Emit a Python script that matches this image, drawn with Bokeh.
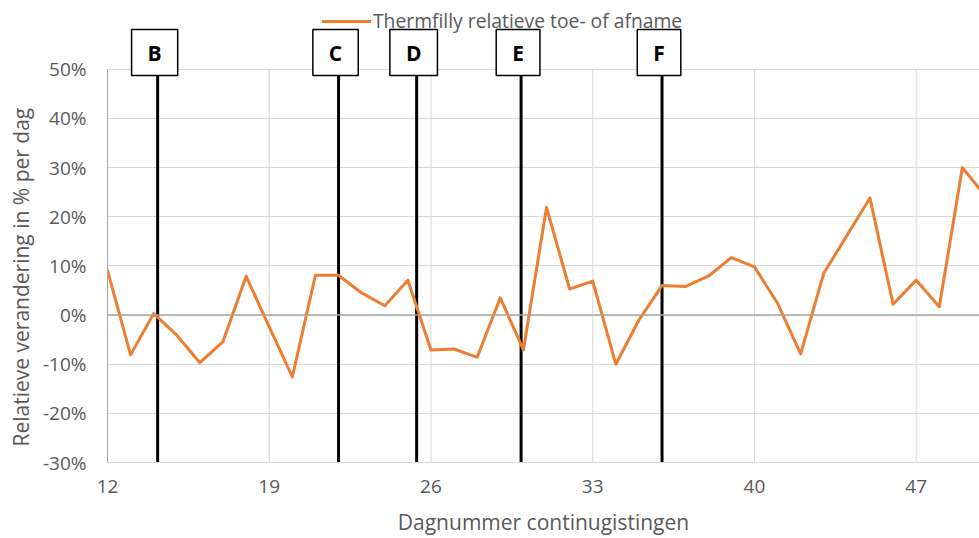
from bokeh.plotting import figure
from bokeh.models import (Range1d, FixedTicker, Span, Label, Legend, LegendItem,
                          ColumnDataSource, Title)
from bokeh.embed import file_html
from bokeh.resources import INLINE

# ---------------- data ----------------
days = list(range(12, 51))
rel_change = [9.1, -8.1, 0.3, -4.1, -9.7, -5.4, 7.9, -2.4, -12.6, 8.1,
              8.1, 4.5, 1.9, 7.1, -7.1, -6.9, -8.6, 3.5, -7.1, 21.9,
              5.3, 6.9, -10.0, -1.0, 6.0, 5.8, 7.9, 11.7, 9.8, 2.4,
              -7.9, 8.5, 16.2, 23.8, 2.2, 7.1, 1.7, 30.0, 24.2]
marker_labels = ["B", "C", "D", "E", "F"]
marker_days = [14.17, 22.0, 25.38, 29.9, 36.0]
x_ticks = [12, 19, 26, 33, 40, 47]
y_ticks = [-30, -20, -10, 0, 10, 20, 30, 40, 50]
series_name = "Thermfilly relatieve toe- of afname"
x_title = "Dagnummer continugistingen"
y_title = "Relatieve verandering in % per dag"

FONT = "Open Sans"
TXT = "#595959"
GRID = "#D9D9D9"
AXIS = "#A6A6A6"
ORANGE = "#ED7D31"

y_lo, y_hi = min(y_ticks), max(y_ticks)

# frame spans from the top of the canvas to the -30% line so that the
# marker boxes and legend (above the 50% line) are drawn inside it
p = figure(width=979, height=538, output_backend="svg", toolbar_location=None,
           tools="", x_range=Range1d(12, 49.74), y_range=Range1d(y_lo, 64.0),
           min_border_left=107, min_border_right=0, min_border_top=0,
           min_border_bottom=75)
p.outline_line_color = None
p.background_fill_color = "white"
p.border_fill_color = "white"

# grids
p.xgrid.visible = False
p.ygrid.ticker = FixedTicker(ticks=y_ticks)
p.ygrid.grid_line_color = GRID
p.ygrid.grid_line_width = 1
p.segment(x0=x_ticks, x1=x_ticks, y0=[y_lo] * len(x_ticks), y1=[y_hi] * len(x_ticks),
          line_color=GRID, line_width=1)

# axes
xa = p.xaxis[0]
xa.ticker = FixedTicker(ticks=x_ticks)
xa.axis_line_color = GRID
xa.major_tick_line_color = None
xa.minor_tick_line_color = None
xa.major_tick_out = 0
xa.major_tick_in = 0
xa.major_label_standoff = 17
xa.major_label_text_font = FONT
xa.major_label_text_font_size = "19px"
xa.major_label_text_color = TXT
xa.axis_label = x_title
xa.axis_label_text_font = FONT
xa.axis_label_text_font_size = "21px"
xa.axis_label_text_font_style = "normal"
xa.axis_label_text_color = TXT
xa.axis_label_standoff = 12

ya = p.yaxis[0]
ya.ticker = FixedTicker(ticks=y_ticks)
ya.bounds = (y_lo, y_hi)
ya.major_label_overrides = {v: f"{v}%" for v in y_ticks}
ya.axis_line_color = AXIS
ya.major_tick_line_color = None
ya.minor_tick_line_color = None
ya.major_tick_out = 0
ya.major_tick_in = 0
ya.major_label_standoff = 21
ya.major_label_text_font = FONT
ya.major_label_text_font_size = "19px"
ya.major_label_text_color = TXT

p.add_layout(Title(text=y_title, align="left", offset=16, standoff=9,
                   text_font=FONT, text_font_size="21px",
                   text_font_style="normal", text_color=TXT), "left")

# zero line (horizontal axis crossing)
p.add_layout(Span(location=0, dimension="width", line_color=AXIS, line_width=1.5))

# phase marker lines
p.segment(x0=marker_days, x1=marker_days, y0=[y_lo] * len(marker_days),
          y1=[y_hi] * len(marker_days), line_color="black", line_width=3)

# series
src = ColumnDataSource(dict(day=days, val=rel_change))
r = p.line("day", "val", source=src, line_color=ORANGE, line_width=3,
           line_join="round", line_cap="round")

# marker boxes
for lab, d in zip(marker_labels, marker_days):
    p.add_layout(Label(x=d, y=410, x_units="data", y_units="screen", text=lab,
                       x_offset=-3, text_align="center", text_baseline="middle",
                       text_font=FONT, text_font_size="21px", text_font_style="bold",
                       text_color="black", background_fill_color="white",
                       border_line_color="black", border_line_width=1.5,
                       padding=(16, 16, 9, 9)))

legend = Legend(items=[LegendItem(label=series_name, renderers=[r])],
                location=(215, 428), orientation="horizontal",
                label_text_font=FONT, label_text_font_size="19.3px",
                label_text_color=TXT, glyph_width=49, glyph_height=20,
                label_standoff=2, padding=0, margin=0, spacing=0,
                border_line_color=None, background_fill_alpha=0)
p.add_layout(legend)

open("out.html", "w").write(file_html(p, INLINE))
